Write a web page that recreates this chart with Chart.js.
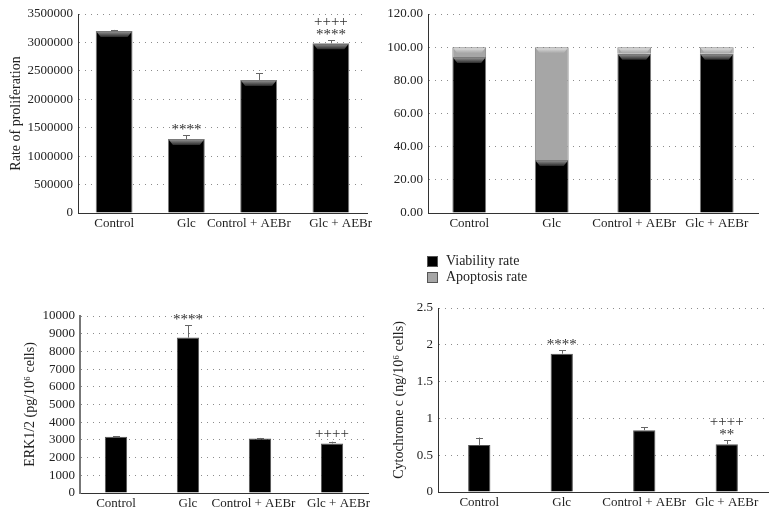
<!DOCTYPE html>
<html>
<head>
<meta charset="utf-8">
<script src="https://cdn.jsdelivr.net/npm/chart.js@4/dist/chart.umd.min.js"></script>
<style>
  html, body { margin: 0; padding: 0; background: #fff; }
  body { width: 776px; height: 515px; position: relative; overflow: hidden; font-family: "Liberation Serif", "DejaVu Serif", serif; }
  .box { position: absolute; }
  #legend { position: absolute; left: 427px; top: 253px; font-size: 14px; color: #222; line-height: 16px; }
  #legend .item { display: flex; align-items: center; height: 16px; }
  #legend .sw { width: 9px; height: 9px; margin-right: 8px; border: 1px solid #555; }
</style>
</head>
<body>
<div class="box" style="left:0px;top:0px;width:390px;height:230px;"><canvas id="c1"></canvas></div>
<div class="box" style="left:380px;top:0px;width:396px;height:230px;"><canvas id="c2"></canvas></div>
<div class="box" style="left:0px;top:240px;width:390px;height:275px;"><canvas id="c3"></canvas></div>
<div class="box" style="left:390px;top:240px;width:386px;height:275px;"><canvas id="c4"></canvas></div>
<div id="legend"></div>
<script>
// ---- data ----
const categories = ['Control', 'Glc', 'Control + AEBr', 'Glc + AEBr'];

const proliferation = [3200000, 1300000, 2340000, 2985000];
const proliferationErr = [20000, 70000, 115000, 50000];
const proliferationMarks = [[], ['****'], [], ['++++', '****']];
const proliferationTicks = { min: 0, max: 3500000, step: 500000 };

const viabilityLabel = 'Viability rate';
const apoptosisLabel = 'Apoptosis rate';
const viability = [94, 32, 96, 96];
const apoptosis = [6, 68, 4, 4];
const rateTicks = { min: 0, max: 120, step: 20 };

const erk = [3180, 8780, 3080, 2800];
const erkErr = [20, 700, 30, 100];
const erkMarks = [[], ['****'], [], ['++++']];
const erkTicks = { min: 0, max: 10000, step: 1000 };

const cytc = [0.64, 1.88, 0.84, 0.65];
const cytcErr = [0.10, 0.045, 0.04, 0.05];
const cytcMarks = [[], ['****'], [], ['++++', '**']];
const cytcTicks = { min: 0, max: 2.5, step: 0.5 };

// ---- style ----
const FONT = '"Liberation Serif", "DejaVu Serif", serif';
const TEXT = '#222';
const GRID = '#8c8c8c';

Chart.defaults.font.family = FONT;
Chart.defaults.color = TEXT;
Chart.defaults.animation = false;

// error bars + significance marks
const extrasPlugin = {
  id: 'extras',
  afterDatasetsDraw(chart) {
    const ctx = chart.ctx;
    const yScale = chart.scales.y;
    chart.data.datasets.forEach((ds, di) => {
      const meta = chart.getDatasetMeta(di);
      meta.data.forEach((bar, i) => {
        let top = bar.y;
        if (ds.errors) {
          const v = ds.data[i];
          const yTop = yScale.getPixelForValue(v + ds.errors[i]);
          ctx.save();
          ctx.strokeStyle = '#666';
          ctx.lineWidth = 1;
          ctx.beginPath();
          ctx.moveTo(Math.round(bar.x) + 0.5, bar.y);
          ctx.lineTo(Math.round(bar.x) + 0.5, yTop);
          ctx.moveTo(Math.round(bar.x) - 3, Math.round(yTop) + 0.5);
          ctx.lineTo(Math.round(bar.x) + 4, Math.round(yTop) + 0.5);
          ctx.stroke();
          ctx.restore();
          top = yTop;
        }
        if (ds.marks && ds.marks[i] && ds.marks[i].length) {
          const lines = ds.marks[i];
          ctx.save();
          ctx.font = '15px ' + FONT;
          ctx.fillStyle = '#333';
          ctx.textAlign = 'center';
          ctx.textBaseline = 'middle';
          for (let k = lines.length - 1, j = 0; k >= 0; k--, j++) {
            const s = lines[k];
            const isStar = s.indexOf('*') >= 0;
            const y = top - 8 - j * 10.5 + (isStar ? 3 : 0);
            ctx.fillText(s, bar.x, y);
          }
          ctx.restore();
        }
      });
    });
  }
};

// 3D bevel at the top of each bar segment (charts 1 and 2)
const bevelPlugin = {
  id: 'bevel',
  afterDatasetsDraw(chart, args, opts) {
    if (!opts || !opts.enabled) return;
    const ctx = chart.ctx;
    chart.data.datasets.forEach((ds, di) => {
      if (!ds.bevel) return;
      const meta = chart.getDatasetMeta(di);
      meta.data.forEach((bar) => {
        const left = bar.x - bar.width / 2 + 1;
        const right = bar.x + bar.width / 2 - 1;
        const top = Math.min(bar.y, bar.base) + 1;
        const h = 5;
        const g = ctx.createLinearGradient(0, top, 0, top + h);
        g.addColorStop(0, ds.bevel[0]);
        g.addColorStop(1, ds.bevel[1]);
        ctx.save();
        ctx.fillStyle = g;
        ctx.beginPath();
        ctx.moveTo(left, top);
        ctx.lineTo(right, top);
        ctx.lineTo(right - 4, top + h);
        ctx.lineTo(left + 4, top + h);
        ctx.closePath();
        ctx.fill();
        ctx.restore();
      });
    });
  }
};

// spread the two long right-hand labels apart a little where categories are narrow
const spreadLabels = (n) => function (value, index) {
  const s = this.getLabelForValue(value);
  const pad = '\u2002'.repeat(n);
  if (index === 2) return s + pad;
  if (index === 3) return pad + s;
  return s;
};

function makeChart(id, cfg) {
  const yScale = {
    min: cfg.ticks.min, max: cfg.ticks.max,
    stacked: !!cfg.stacked,
    afterFit(s) { s.width = cfg.yWidth; },
    grid: { color: GRID, drawTicks: false, lineWidth: 1 },
    border: { display: true, color: cfg.axisColor || '#333', width: cfg.axisWidth || 1, dash: [1, 5] },
    ticks: {
      stepSize: cfg.ticks.step, padding: cfg.tickPad || 5, autoSkip: false,
      font: { size: 13 }, color: TEXT,
      callback: cfg.tickFmt || ((v) => String(v))
    },
    title: cfg.yTitle ? {
      display: true, text: cfg.yTitle, font: { size: 14 }, color: TEXT,
      padding: { top: cfg.titlePad || 4, bottom: 0 }
    } : { display: false }
  };
  const xTicks = { font: { size: 13 }, color: TEXT, padding: 3, maxRotation: 0, autoSkip: false };
  if (cfg.spread) xTicks.callback = spreadLabels(cfg.spread);
  return new Chart(document.getElementById(id), {
    type: 'bar',
    data: { labels: categories, datasets: cfg.datasets },
    options: {
      responsive: true,
      maintainAspectRatio: false,
      layout: { padding: { top: cfg.padTop, right: cfg.padRight, left: 0, bottom: 0 } },
      plugins: { legend: { display: false }, tooltip: { enabled: false }, bevel: { enabled: !!cfg.bevel } },
      scales: {
        x: {
          stacked: !!cfg.stacked,
          afterFit(s) { s.height = cfg.xHeight; },
          grid: { display: false, drawTicks: false },
          border: { display: true, color: '#333', width: 1 },
          ticks: xTicks
        },
        y: yScale
      }
    },
    plugins: [extrasPlugin, bevelPlugin]
  });
}

const barStyle = (w) => ({
  backgroundColor: '#000', borderColor: '#7a7a7a', borderWidth: 1,
  categoryPercentage: 1, barPercentage: w
});

// Chart 1: proliferation
makeChart('c1', {
  ticks: proliferationTicks, yWidth: 78, padTop: 14, padRight: 23, xHeight: 17,
  yTitle: 'Rate of proliferation', titlePad: 8, bevel: true, spread: 3,
  datasets: [Object.assign({
    data: proliferation, errors: proliferationErr, marks: proliferationMarks,
    bevel: ['#8a8a8a', '#2a2a2a']
  }, barStyle(0.51))]
});

// Chart 2: viability / apoptosis (stacked)
const chart2 = makeChart('c2', {
  ticks: rateTicks, yWidth: 48, padTop: 14, padRight: 18, xHeight: 17, stacked: true, bevel: true,
  tickFmt: (v) => Number(v).toFixed(2),
  datasets: [
    Object.assign({ label: viabilityLabel, data: viability, bevel: ['#8a8a8a', '#2a2a2a'] }, barStyle(0.41)),
    Object.assign({ label: apoptosisLabel, data: apoptosis, bevel: ['#dcdcdc', '#a6a6a6'] }, barStyle(0.41),
      { backgroundColor: '#a6a6a6', borderColor: '#808080' })
  ]
});

// Chart 3: ERK1/2
makeChart('c3', {
  ticks: erkTicks, yWidth: 80, padTop: 76, padRight: 22, xHeight: 22, spread: 2,
  yTitle: 'ERK1/2 (pg/10\u2076 cells)', titlePad: 22, axisColor: '#777', axisWidth: 2,
  datasets: [Object.assign({ data: erk, errors: erkErr, marks: erkMarks }, barStyle(0.31), { borderColor: '#555' })]
});

// Chart 4: Cytochrome c
makeChart('c4', {
  ticks: cytcTicks, yWidth: 48, padTop: 68, padRight: 8, xHeight: 23,
  yTitle: 'Cytochrome c (ng/10\u2076 cells)', titlePad: 1,
  tickFmt: (v) => String(Math.round(v * 10) / 10),
  datasets: [Object.assign({ data: cytc, errors: cytcErr, marks: cytcMarks }, barStyle(0.27), { borderColor: '#555' })]
});

// HTML legend from chart 2 datasets
const legend = document.getElementById('legend');
chart2.data.datasets.forEach((ds) => {
  const item = document.createElement('div');
  item.className = 'item';
  const sw = document.createElement('span');
  sw.className = 'sw';
  sw.style.background = ds.backgroundColor;
  const t = document.createElement('span');
  t.textContent = ds.label;
  item.appendChild(sw); item.appendChild(t);
  legend.appendChild(item);
});
</script>
</body>
</html>
